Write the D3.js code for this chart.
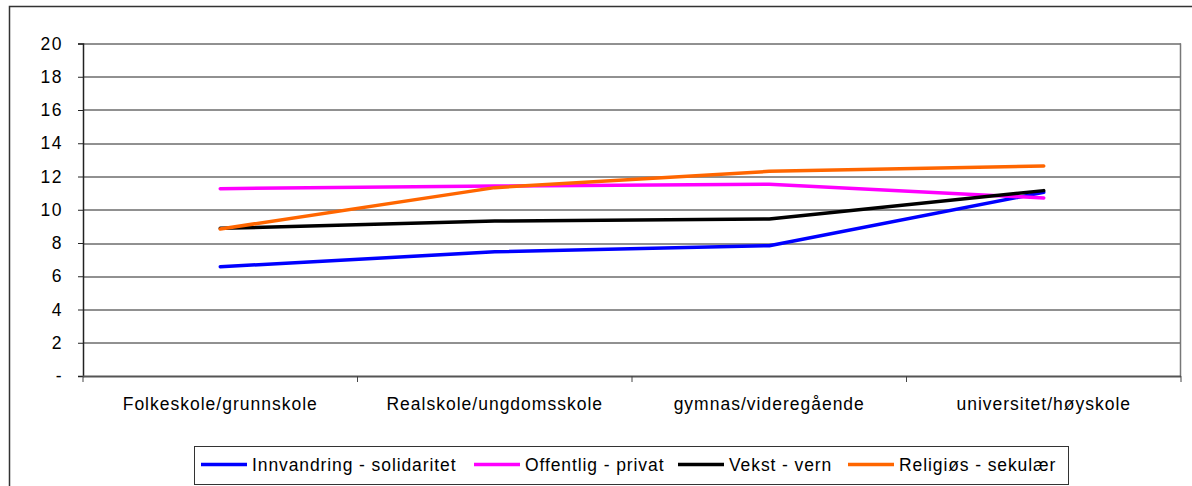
<!DOCTYPE html>
<html>
<head>
<meta charset="utf-8">
<script src="https://cdn.jsdelivr.net/npm/d3@7"></script>
<style>
  body { margin: 0; background: #fff; }
  svg { display: block; font-family: "Liberation Sans", Arial, sans-serif; }
</style>
</head>
<body>
<svg id="chart" width="1192" height="486"></svg>
<script>
const categories = ["Folkeskole/grunnskole", "Realskole/ungdomsskole", "gymnas/videregående", "universitet/høyskole"];
const seriesNames = ["Innvandring - solidaritet", "Offentlig - privat", "Vekst - vern", "Religiøs - sekulær"];
const seriesColors = ["#0000ff", "#ff00ff", "#000000", "#ff6600"];
const innvandring = [6.57, 7.47, 7.84, 11.05];
const offentlig = [11.27, 11.43, 11.53, 10.71];
const vekst = [8.88, 9.32, 9.44, 11.15];
const religios = [8.84, 11.33, 12.31, 12.63];
const yTicks = [0, 2, 4, 6, 8, 10, 12, 14, 16, 18, 20];

const seriesValues = [innvandring, offentlig, vekst, religios];
const svg = d3.select("#chart");
const margin = { top: 43.5, right: 11, bottom: 110, left: 83 };
const width = 1192;
const height = 486;
const innerWidth = width - margin.left - margin.right;
const innerHeight = height - margin.top - margin.bottom;

// outer chart frame (runs off the right and bottom of the picture)
svg.append("rect")
  .attr("x", 9.5).attr("y", 6.5)
  .attr("width", 1200).attr("height", 500)
  .attr("fill", "none").attr("stroke", "#333").attr("stroke-width", 1.5);

const g = svg.append("g").attr("transform", `translate(${margin.left}, ${margin.top})`);

const x = d3.scaleBand().domain(categories).range([0, innerWidth]).padding(0);
const y = d3.scaleLinear().domain([0, 20]).range([innerHeight, 0]);

// gridlines
g.selectAll(".grid")
  .data(yTicks.filter((d) => d > 0))
  .join("line")
  .attr("class", "grid")
  .attr("x1", 0).attr("x2", innerWidth)
  .attr("y1", (d) => Math.round(y(d)) + 0.5).attr("y2", (d) => Math.round(y(d)) + 0.5)
  .attr("stroke", "#222").attr("stroke-width", 1);

// plot area right border
g.append("line")
  .attr("x1", innerWidth - 0.5).attr("x2", innerWidth - 0.5)
  .attr("y1", 0).attr("y2", innerHeight)
  .attr("stroke", "#777").attr("stroke-width", 1.5);

// y axis
const yAxis = g.append("g")
  .call(d3.axisLeft(y).tickValues(yTicks).tickSize(5).tickPadding(15)
    .tickFormat((d) => (d === 0 ? "-" : d)));
yAxis.select(".domain").attr("stroke", "#222").attr("stroke-width", 1.5);
yAxis.selectAll(".tick line").attr("stroke", "#222");
yAxis.selectAll("text").attr("font-size", 17.5).attr("fill", "#000")
  .attr("letter-spacing", 1.5)
  .attr("font-family", "Liberation Sans, Arial, sans-serif");

// x axis with ticks at band boundaries
const xAxisG = g.append("g").attr("transform", `translate(0, ${innerHeight})`);
xAxisG.append("line")
  .attr("x1", 0).attr("x2", innerWidth).attr("y1", 0.5).attr("y2", 0.5)
  .attr("stroke", "#555").attr("stroke-width", 2);
const boundaries = categories.map((c) => x(c)).concat([innerWidth]);
xAxisG.selectAll(".xtick")
  .data(boundaries)
  .join("line")
  .attr("x1", (d) => d).attr("x2", (d) => d)
  .attr("y1", 0).attr("y2", 6)
  .attr("stroke", "#444").attr("stroke-width", 1);
xAxisG.selectAll(".xlabel")
  .data(categories)
  .join("text")
  .attr("x", (d) => x(d) + x.bandwidth() / 2)
  .attr("y", 33.5)
  .attr("text-anchor", "middle")
  .attr("font-size", 17.5)
  .attr("letter-spacing", 1)
  .attr("fill", "#000")
  .text((d) => d);

// lines
const line = d3.line()
  .x((d, i) => x(categories[i]) + x.bandwidth() / 2)
  .y((d) => y(d));

g.selectAll(".series")
  .data(seriesValues)
  .join("path")
  .attr("class", "series")
  .attr("d", (d) => line(d))
  .attr("fill", "none")
  .attr("stroke", (d, i) => seriesColors[i])
  .attr("stroke-width", 3.5)
  .attr("stroke-linejoin", "round")
  .attr("stroke-linecap", "round");

// legend
const legend = svg.append("g").attr("transform", "translate(194, 446)");
legend.append("rect")
  .attr("x", 0.5).attr("y", 0.5).attr("width", 874).attr("height", 38)
  .attr("fill", "#fff").attr("stroke", "#333").attr("stroke-width", 1);
const legendX = [7, 280, 484, 654];
seriesNames.forEach((name, i) => {
  const item = legend.append("g").attr("transform", `translate(${legendX[i]}, 0)`);
  item.append("line")
    .attr("x1", 0).attr("x2", 46).attr("y1", 18.5).attr("y2", 18.5)
    .attr("stroke", seriesColors[i]).attr("stroke-width", 3.5);
  item.append("text")
    .attr("x", 51).attr("y", 24.5)
    .attr("font-size", 17.5)
    .attr("letter-spacing", 0.9)
    .attr("fill", "#000")
    .text(name);
});
</script>
</body>
</html>
